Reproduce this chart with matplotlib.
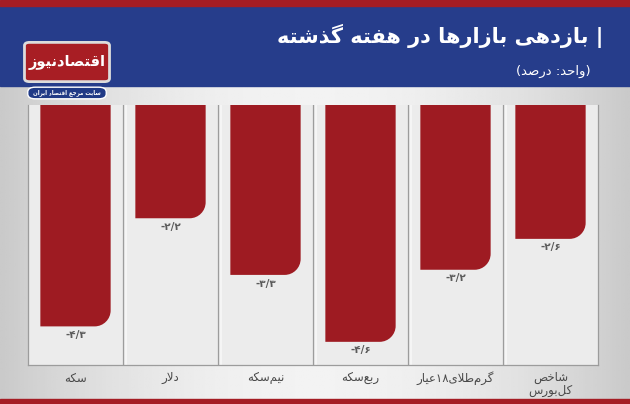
import re
import numpy as np
import matplotlib
matplotlib.use('Agg')
import matplotlib.pyplot as plt
from matplotlib.path import Path
from matplotlib.patches import PathPatch, Rectangle, FancyBboxPatch

# داده‌ها
categories = ['سکه', 'دلار', 'نیم\u200cسکه', 'ربع\u200cسکه', 'گرم\u200cطلای۱۸عیار', 'شاخص\nکل\u200cبورس']
values = [-4.3, -2.2, -3.3, -4.6, -3.2, -2.6]
title = '| بازدهی بازارها در هفته گذشته'
subtitle = '(واحد: درصد)'
logo_name = 'اقتصادنیوز'
logo_tag = 'سایت مرجع اقتصاد ایران'

# matplotlib has no arabic shaping, so map letters to presentation forms
FORMS = {
    'ا': ('\uFE8D', '\uFE8E', None, None),
    'ب': ('\uFE8F', '\uFE90', '\uFE91', '\uFE92'),
    'ت': ('\uFE95', '\uFE96', '\uFE97', '\uFE98'),
    'ج': ('\uFE9D', '\uFE9E', '\uFE9F', '\uFEA0'),
    'ح': ('\uFEA1', '\uFEA2', '\uFEA3', '\uFEA4'),
    'خ': ('\uFEA5', '\uFEA6', '\uFEA7', '\uFEA8'),
    'د': ('\uFEA9', '\uFEAA', None, None),
    'ذ': ('\uFEAB', '\uFEAC', None, None),
    'ر': ('\uFEAD', '\uFEAE', None, None),
    'ز': ('\uFEAF', '\uFEB0', None, None),
    'س': ('\uFEB1', '\uFEB2', '\uFEB3', '\uFEB4'),
    'ش': ('\uFEB5', '\uFEB6', '\uFEB7', '\uFEB8'),
    'ص': ('\uFEB9', '\uFEBA', '\uFEBB', '\uFEBC'),
    'ط': ('\uFEC1', '\uFEC2', '\uFEC3', '\uFEC4'),
    'ع': ('\uFEC9', '\uFECA', '\uFECB', '\uFECC'),
    'ف': ('\uFED1', '\uFED2', '\uFED3', '\uFED4'),
    'ق': ('\uFED5', '\uFED6', '\uFED7', '\uFED8'),
    'ل': ('\uFEDD', '\uFEDE', '\uFEDF', '\uFEE0'),
    'م': ('\uFEE1', '\uFEE2', '\uFEE3', '\uFEE4'),
    'ن': ('\uFEE5', '\uFEE6', '\uFEE7', '\uFEE8'),
    'ه': ('\uFEE9', '\uFEEA', '\uFEEB', '\uFEEC'),
    'و': ('\uFEED', '\uFEEE', None, None),
    'ک': ('\uFB8E', '\uFB8F', '\uFB90', '\uFB91'),
    'گ': ('\uFB92', '\uFB93', '\uFB94', '\uFB95'),
    'ی': ('\uFBFC', '\uFBFD', '\uFBFE', '\uFBFF'),
}
MIRROR = {'(': ')', ')': '('}


def shape(text):
    out = []
    i = 0
    while i < len(text):
        c = text[i]
        prev = text[i - 1] if i > 0 else ''
        nxt = text[i + 1] if i + 1 < len(text) else ''
        p = prev in FORMS and FORMS[prev][2] is not None
        if c == 'ل' and nxt == 'ا':
            out.append('\uFEFC' if p else '\uFEFB')
            i += 2
            continue
        if c in FORMS:
            f = FORMS[c]
            n = f[2] is not None and nxt in FORMS
            if p and n:
                out.append(f[3])
            elif p:
                out.append(f[1])
            elif n:
                out.append(f[2])
            else:
                out.append(f[0])
        elif c != '\u200c':
            out.append(MIRROR.get(c, c))
        i += 1
    tokens = re.findall(r'[۰-۹0-9]+|.', ''.join(out))
    return ''.join(tokens[::-1])


def fa_num(v):
    s = f'{v:.1f}'.replace('.', '/')
    return s.translate(str.maketrans('0123456789', '۰۱۲۳۴۵۶۷۸۹'))


plt.rcParams['font.family'] = ['DejaVu Sans']

W, H = 630, 404
fig = plt.figure(figsize=(W / 100, H / 100), dpi=100)

# background
bg = fig.add_axes([0, 0, 1, 1])
xx = np.linspace(-1, 1, 300)
grad = 0.95 - 0.16 * xx ** 2
bg.imshow(np.tile(grad, (50, 1)), cmap='gray', vmin=0, vmax=1, aspect='auto',
          extent=[0, 1, 0, 1])
bg.set_xlim(0, 1)
bg.set_ylim(0, 1)
bg.axis('off')

bg.add_patch(Rectangle((0, 1 - 86 / H), 1, 80 / H, color='#263d8b', zorder=2))
bg.add_patch(Rectangle((0, 1 - 6 / H), 1, 6 / H, color='#a51d24', zorder=2))
bg.add_patch(Rectangle((0, 0), 1, 5 / H, color='#a51d24', zorder=2))

# logo
bg.add_patch(FancyBboxPatch((27 / W, 1 - 80 / H), 80 / W, 36 / H,
                            boxstyle='round,pad=0.004,rounding_size=0.008',
                            fc='#a81e24', ec='#dcdcdc', lw=2, zorder=3))
bg.text(67 / W, 1 - 62 / H, shape(logo_name), color='white', fontsize=10.5,
        fontweight='bold', ha='center', va='center', zorder=4)
bg.add_patch(FancyBboxPatch((29 / W, 1 - 98 / H), 76 / W, 10 / H,
                            boxstyle='round,pad=0.002,rounding_size=0.012',
                            fc='#203a86', ec='white', lw=1, zorder=3))
bg.text(67 / W, 1 - 93 / H, shape(logo_tag), color='white', fontsize=4,
        fontweight='bold', ha='center', va='center', zorder=4)

fig.text(603 / W, 1 - 36 / H, shape(title), color='white', fontsize=15,
         fontweight='bold', ha='right', va='center')
fig.text(591 / W, 1 - 71 / H, shape(subtitle), color='white', fontsize=9.5,
         ha='right', va='center')

# chart
ax = fig.add_axes([28 / W, 1 - 365 / H, 570 / W, 260 / H])
ax.set_facecolor('#ececec')
ax.set_xlim(-0.5, len(values) - 0.5)
ax.set_ylim(-5.05, 0)
for s in ['left', 'right', 'bottom']:
    ax.spines[s].set_color('#9c9c9c')
    ax.spines[s].set_linewidth(0.9)
ax.spines['top'].set_visible(False)
ax.set_xticks([])
ax.set_yticks([])
for k in range(len(values) - 1):
    ax.axvline(k + 0.5, color='#9c9c9c', lw=0.9)
    ax.axvline(k + 0.53, color='#f8f8f8', lw=1.2)

bw = 0.74
rx = 16 / (570 / 6)
ry = 16 / (260 / 5.05)
kk = 0.5523
for i, v in enumerate(values):
    x0, x1 = i - bw / 2, i + bw / 2
    verts = [(x0, 0), (x1, 0), (x1, v + ry),
             (x1, v + ry - kk * ry), (x1 - rx + kk * rx, v), (x1 - rx, v),
             (x0, v), (x0, 0)]
    codes = [Path.MOVETO, Path.LINETO, Path.LINETO,
             Path.CURVE4, Path.CURVE4, Path.CURVE4,
             Path.LINETO, Path.CLOSEPOLY]
    ax.add_patch(PathPatch(Path(verts, codes), fc='#9e1b22', ec='none', zorder=3))
    ax.text(i, v - 0.07, fa_num(v), ha='center', va='top', fontsize=7.5,
            fontweight='bold', color='#5a5a5a')
    lab = '\n'.join(shape(t) for t in categories[i].split('\n'))
    ax.text(i, -0.025, lab, transform=ax.get_xaxis_transform(), ha='center',
            va='top', fontsize=8.5, color='#4a4a4a', linespacing=0.95)

fig.savefig('out.png', dpi=100)
